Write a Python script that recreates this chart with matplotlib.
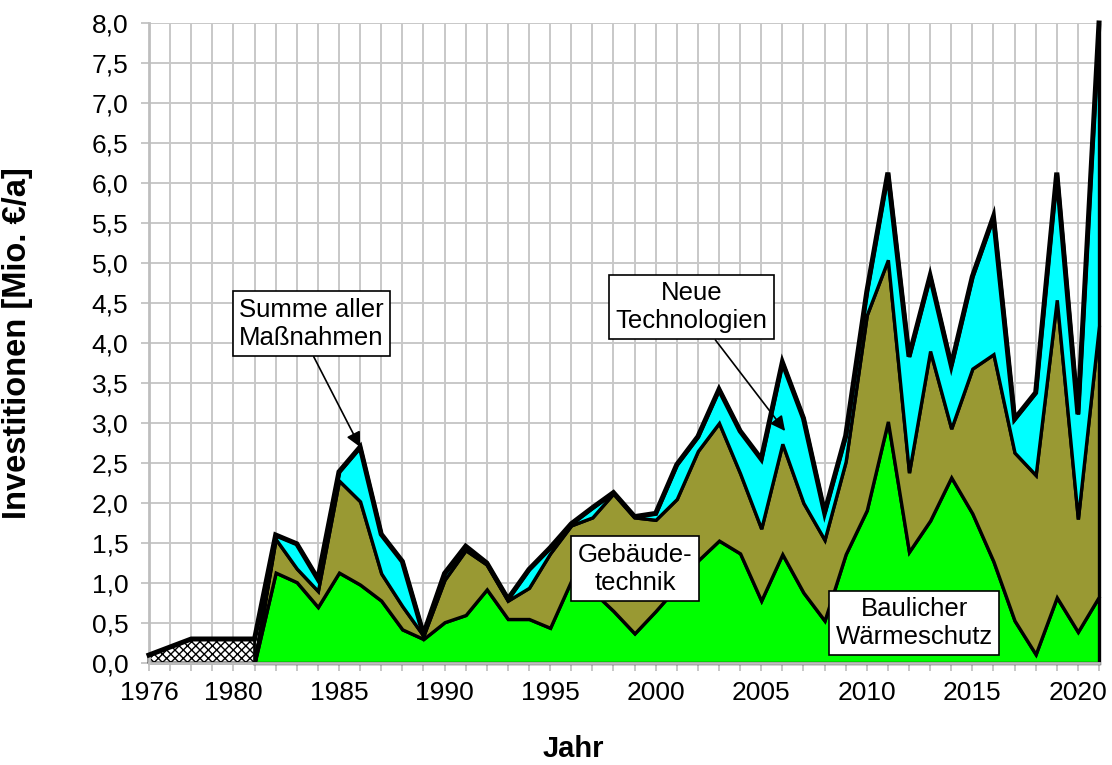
import numpy as np
import matplotlib
matplotlib.use("Agg")
import matplotlib.pyplot as plt
from matplotlib.ticker import FuncFormatter, MultipleLocator

plt.rcParams["font.family"] = ["Liberation Sans", "DejaVu Sans"]
plt.rcParams["hatch.linewidth"] = 1.0

# -----------------------------------------------------
# DATA (Mio. EUR per year)
# -----------------------------------------------------

# early investments before the split into categories (hatched)
years_early = [1976, 1977, 1978, 1979, 1980, 1981]
frueh = [0.10, 0.20, 0.30, 0.30, 0.30, 0.30]

years = list(range(1981, 2022))

# Baulicher Waermeschutz (green, bottom layer)
waermeschutz = [0.00, 1.13, 1.01, 0.70, 1.13, 0.98, 0.78, 0.42, 0.30, 0.51,
                0.60, 0.92, 0.55, 0.55, 0.44, 1.03, 0.90, 0.65, 0.37, 0.65,
                0.95, 1.28, 1.53, 1.37, 0.78, 1.36, 0.88, 0.53, 1.36, 1.91,
                3.02, 1.39, 1.78, 2.32, 1.87, 1.27, 0.53, 0.11, 0.82, 0.39,
                0.83]

# Gebaeudetechnik (olive, middle layer)
gebaeudetechnik = [0.00, 0.42, 0.17, 0.20, 1.15, 1.04, 0.34, 0.29, 0.04, 0.53,
                   0.81, 0.31, 0.23, 0.39, 0.93, 0.69, 0.92, 1.47, 1.45, 1.14,
                   1.10, 1.37, 1.47, 1.00, 0.90, 1.38, 1.12, 1.01, 1.16, 2.44,
                   2.02, 0.99, 2.12, 0.61, 1.81, 2.59, 2.10, 2.24, 3.72, 1.41,
                   3.39]

# Neue Technologien (cyan, top layer)
neue_tech = [0.00, 0.05, 0.31, 0.15, 0.11, 0.68, 0.49, 0.56, 0.02, 0.08,
             0.05, 0.02, 0.02, 0.23, 0.07, 0.02, 0.12, 0.01, 0.01, 0.08,
             0.43, 0.18, 0.42, 0.53, 0.87, 1.02, 1.06, 0.34, 0.32, 0.29,
             1.09, 1.45, 0.94, 0.79, 1.15, 1.72, 0.42, 1.03, 1.59, 1.31,
             3.78]

major_years = [1976, 1980, 1985, 1990, 1995, 2000, 2005, 2010, 2015, 2020]

# -----------------------------------------------------
# PLOT
# -----------------------------------------------------

fig = plt.figure(figsize=(11.12, 7.65), dpi=100)
ax = fig.add_axes([149 / 1112, 102 / 765, 950 / 1112, 640 / 765])

ax.stackplot(years, waermeschutz, gebaeudetechnik, neue_tech,
             colors=["#00FF00", "#999933", "#00FFFF"],
             edgecolor="black", linewidth=2.4, joinstyle="miter",
             clip_on=False, zorder=2)

ax.fill_between(years_early, 0, frueh, facecolor="white", hatch="xxxx",
                edgecolor="black", linewidth=2.0, clip_on=False, zorder=2)

# Summe aller Massnahmen (outline over everything)
all_years = years_early[:-1] + years
stack_sum = np.array(waermeschutz) + np.array(gebaeudetechnik) + np.array(neue_tech)
summe = np.concatenate([frueh[:-1], [frueh[-1] + stack_sum[0]], stack_sum[1:]])
ax.plot(all_years, summe, color="black", linewidth=3.6,
        solid_joinstyle="miter", clip_on=False, zorder=3)

# --- axes ---
ax.set_xlim(1976, 2021)
ax.set_ylim(0, 8)
ax.set_xticks(major_years)
ax.set_xticks(range(1976, 2022), minor=True)
ax.yaxis.set_major_locator(MultipleLocator(0.5))
ax.yaxis.set_major_formatter(FuncFormatter(lambda v, p: f"{v:.1f}".replace(".", ",")))

ax.set_axisbelow(True)
ax.grid(True, which="both", axis="x", color="#C8C8C8", linewidth=1.4)
ax.grid(True, which="major", axis="y", color="#C8C8C8", linewidth=1.4)

for side in ["top", "right"]:
    ax.spines[side].set_visible(False)
for side in ["left", "bottom"]:
    ax.spines[side].set_color("#BEBEBE")
    ax.spines[side].set_linewidth(2.0)

ax.tick_params(axis="both", which="both", colors="#BEBEBE", labelcolor="black",
               labelsize=19, width=1.2)
ax.tick_params(axis="x", which="both", length=6, pad=7)
ax.tick_params(axis="y", length=6, pad=9)

ax.set_ylabel("Investitionen [Mio. €/a]", fontsize=23.5, fontweight="bold")
ax.yaxis.set_label_coords(-0.122, 0.5)
ax.set_xlabel("Jahr", fontsize=21, fontweight="bold")
ax.xaxis.set_label_coords(0.447, -0.113)

# --- annotations ---
box = dict(boxstyle="square,pad=0.25", facecolor="white", edgecolor="black", linewidth=1.2)
arrow = dict(arrowstyle="-|>", color="black", linewidth=1.2, mutation_scale=22,
             shrinkA=0, shrinkB=0)

ax.annotate("Summe aller\nMaßnahmen", xy=(1986, 2.7), xytext=(1983.7, 4.24),
            ha="center", va="center", fontsize=18.5, bbox=box,
            arrowprops=dict(arrow, relpos=(0.49, 0.0)), zorder=5)
ax.annotate("Neue\nTechnologien", xy=(2006.13, 2.9), xytext=(2001.71, 4.45),
            ha="center", va="center", fontsize=18.5, bbox=box,
            arrowprops=dict(arrow, relpos=(0.62, 0.0)), zorder=5)
ax.text(1999.02, 1.18, "Gebäude-\ntechnik", ha="center", va="center",
        fontsize=18.5, bbox=box, zorder=5)
ax.text(2012.25, 0.50, "Baulicher\nWärmeschutz", ha="center", va="center",
        fontsize=18.5, bbox=box, zorder=5)

fig.savefig("out.png", dpi=100)
